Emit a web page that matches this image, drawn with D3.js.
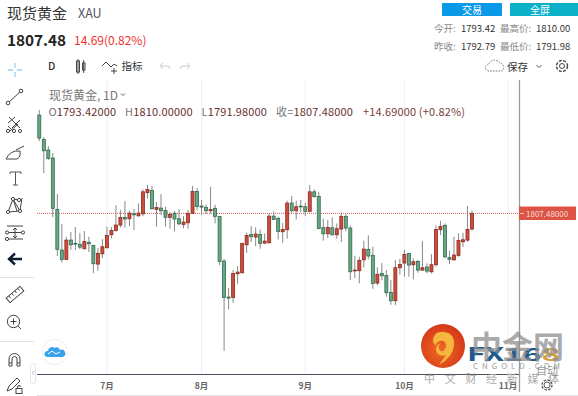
<!DOCTYPE html>
<html>
<head>
<meta charset="utf-8">
<script src="https://cdn.jsdelivr.net/npm/d3@7"></script>
<style>
  html, body { margin: 0; padding: 0; background: #fff; }
  svg { display: block; }
  text { font-family: "Noto Sans CJK SC", "Noto Sans", sans-serif; }
</style>
</head>
<body>
<div id="chart"></div>
<script>
// Velas diarias
const opens = [1895.6,1873.8,1864.3,1857.1,1811.1,1774.6,1766.2,1783.5,1780.6,1779.7,1775.7,1781.5,1778.8,1762.0,1771.2,1776.6,1788.3,1792.2,1797.0,1803.9,1802.6,1807.1,1805.3,1807.1,1826.0,1828.1,1811.0,1812.2,1810.1,1803.9,1807.5,1802.6,1797.6,1799.0,1807.5,1827.2,1814.0,1812.8,1809.8,1812.0,1804.8,1764.7,1732.4,1732.1,1753.3,1754.2,1779.3,1788.6,1786.2,1788.6,1780.8,1781.1,1805.0,1803.0,1791.0,1792.8,1816.7,1809.8,1814.0,1813.4,1809.3,1826.8,1822.7,1794.6,1789.2,1794.6,1788.3,1793.4,1804.8,1794.3,1756.0,1756.0,1765.8,1775.2,1769.8,1745.0,1753.6,1751.8,1736.6,1729.1,1758.7,1762.9,1771.6,1761.4,1764.4,1756.6,1759.3,1755.1,1761.4,1792.8,1796.7,1768.0,1765.8,1769.8,1782.0,1783.5,1793.42];
const highs = [1900.1,1875.9,1867.8,1861.6,1824.8,1797.9,1786.5,1790.7,1795.2,1789.8,1791.6,1786.5,1779.0,1776.3,1784.4,1795.5,1795.2,1814.9,1810.4,1818.5,1809.8,1811.3,1816.4,1829.0,1832.9,1832.0,1817.6,1824.8,1813.4,1808.4,1809.8,1811.3,1805.0,1810.4,1832.0,1830.2,1819.4,1815.2,1831.3,1815.2,1804.8,1766.5,1740.5,1756.6,1760.2,1780.8,1790.1,1796.1,1794.9,1793.1,1789.5,1807.5,1809.3,1804.4,1799.0,1818.8,1823.0,1818.8,1819.4,1817.0,1832.9,1829.0,1826.8,1802.6,1801.5,1803.9,1798.5,1808.4,1806.8,1796.7,1769.2,1768.5,1782.9,1787.7,1777.5,1759.0,1762.9,1756.6,1747.6,1765.6,1766.7,1774.6,1771.6,1767.1,1765.6,1782.6,1762.6,1771.0,1796.7,1800.8,1798.5,1773.9,1786.5,1789.5,1790.1,1814.0,1810.00];
const lows = [1872.3,1843.6,1855.3,1804.1,1769.2,1763.2,1765.6,1774.6,1774.6,1775.4,1775.4,1772.8,1753.9,1756.0,1767.4,1776.1,1785.0,1791.0,1794.9,1794.6,1796.1,1792.5,1804.4,1805.0,1820.6,1811.0,1795.5,1805.9,1795.5,1793.7,1791.3,1796.7,1794.0,1793.7,1806.8,1810.4,1806.2,1806.8,1807.5,1798.5,1761.1,1684.2,1721.4,1727.3,1744.0,1753.6,1772.1,1781.7,1778.1,1775.7,1779.9,1780.6,1801.5,1784.1,1781.1,1784.7,1807.5,1802.1,1808.6,1805.0,1808.6,1821.8,1793.1,1782.9,1785.3,1787.7,1784.7,1781.7,1791.3,1747.6,1749.4,1744.7,1759.0,1766.2,1739.8,1742.9,1747.6,1732.7,1725.5,1725.2,1752.4,1750.6,1750.6,1748.3,1754.2,1756.0,1753.6,1753.6,1759.6,1788.0,1767.4,1762.0,1765.0,1768.5,1777.5,1782.0,1791.98];
const closes = [1875.0,1863.6,1856.8,1812.0,1775.2,1766.2,1783.5,1779.3,1779.9,1777.2,1782.3,1780.2,1762.3,1771.6,1777.5,1787.7,1792.2,1797.0,1803.9,1802.4,1807.7,1806.2,1807.7,1826.8,1829.0,1811.6,1812.8,1809.8,1803.9,1806.6,1802.4,1798.1,1799.7,1807.5,1827.2,1813.7,1813.1,1809.8,1811.0,1804.8,1764.4,1732.1,1731.5,1753.6,1754.8,1780.6,1787.7,1786.5,1788.9,1780.6,1782.6,1805.0,1802.1,1791.3,1793.1,1816.7,1809.8,1813.4,1813.4,1809.3,1826.8,1822.4,1794.0,1789.2,1794.9,1788.3,1793.7,1804.8,1794.3,1755.1,1756.6,1765.3,1775.4,1769.2,1744.7,1752.8,1751.5,1736.3,1729.1,1758.7,1761.7,1770.7,1761.1,1764.1,1756.6,1758.7,1755.7,1761.4,1793.1,1795.8,1768.5,1766.2,1770.1,1783.2,1783.8,1793.1,1807.48];

const monthTicks = [15, 36, 59, 81, 104];
const monthLabels = ["7月", "8月", "9月", "10月", "11月"];
const lastPrice = 1807.48;

const width = 578, height = 396;
const ink = "#444";

const svg = d3.select("#chart").append("svg")
  .attr("width", width).attr("height", height)
  .attr("viewBox", `0 0 ${width} ${height}`);

const x = d3.scaleLinear().domain([0, 96]).range([39.3, 472]);
const y = d3.scaleLinear().domain([1900, 1700]).range([110.2, 333.2]);

const label = (txt, px, py, size, fill, extra = {}) => {
  const t = svg.append("text").attr("x", px).attr("y", py)
    .attr("font-size", size).attr("fill", fill).text(txt);
  Object.entries(extra).forEach(([k, v]) => t.attr(k, v));
  return t;
};

// Cabecera
label("现货黄金", 7, 19, 15, "#333");
label("XAU", 78, 18, 12.5, "#556");
label("1807.48", 7, 46, 15.3, "#222", { "font-weight": 700 });
label("14.69(0.82%)", 74, 45, 12, "#f0302c");

svg.append("rect").attr("x", 442).attr("y", 3).attr("width", 60).attr("height", 13).attr("fill", "#0a9ae8");
svg.append("rect").attr("x", 510).attr("y", 3).attr("width", 68).attr("height", 13).attr("fill", "#0cb0c9");
label("交易", 472, 13.5, 10, "#fff", { "text-anchor": "middle" });
label("全屏", 540, 13.5, 10, "#fff", { "text-anchor": "middle" });

[["今开:", 434, "1793.42", 461, 32], ["昨收:", 434, "1792.79", 461, 50]].forEach(r => {
  label(r[0], r[1], r[4], 9.5, "#888");
  label(r[2], r[3], r[4], 9.5, "#333");
});
[["最高价:", 500, "1810.00", 536, 32], ["最低价:", 500, "1791.98", 536, 50]].forEach(r => {
  label(r[0], r[1], r[4], 9.5, "#888");
  label(r[2], r[3], r[4], 9.5, "#333");
});

// Barra superior
label("D", 48, 70, 10.5, "#333", { "font-weight": 500 });
const line = (d, stroke = ink, w = 1, g = svg) =>
  g.append("path").attr("d", d).attr("fill", "none").attr("stroke", stroke).attr("stroke-width", w);

svg.append("rect").attr("x", 76.5).attr("y", 61).attr("width", 3).attr("height", 11).attr("fill", "#fff").attr("stroke", ink);
svg.append("rect").attr("x", 82.5).attr("y", 63).attr("width", 2.5).attr("height", 7).attr("fill", "#fff").attr("stroke", ink);
line("M78 59V74M83.7 60V73");
line("M102 66l4-4 5 5 3-3 3 2");
line("M111 71h6M114 68v6");
label("指标", 121.5, 70, 10.5, "#333");
line("M160 66h7q3 0 3 3M160 66l3-3M160 66l3 3", "#ccc");
line("M190 66h-7q-3 0-3 3M190 66l-3-3M190 66l-3 3", "#ccc");

svg.append("path").attr("d", "M489 71a3.5 3.5 0 0 1 0-7a6 5.5 0 0 1 11-1a4.5 4.5 0 0 1 2 8Z")
  .attr("fill", "none").attr("stroke", "#777").attr("stroke-dasharray", "1.6 1.2");
label("保存", 507, 70.5, 10.5, "#333");
line("M536.5 65l2.5 2.5 2.5-2.5", "#555");
svg.append("circle").attr("cx", 562).attr("cy", 66).attr("r", 2.5).attr("fill", "none").attr("stroke", ink);
svg.append("circle").attr("cx", 562).attr("cy", 66).attr("r", 5.5).attr("fill", "none").attr("stroke", ink).attr("stroke-dasharray", "3 1.4").attr("stroke-width", 1.4);

// Rejilla y ejes
svg.append("g").selectAll("line").data(monthTicks).enter().append("line")
  .attr("x1", d => x(d)).attr("x2", d => x(d))
  .attr("y1", 80).attr("y2", 374)
  .attr("stroke", "#e9f0f7").attr("stroke-width", 1);

svg.append("line").attr("x1", 519.5).attr("x2", 519.5).attr("y1", 80).attr("y2", 392)
  .attr("stroke", "#9a9aa2").attr("stroke-width", 1.3);
svg.append("line").attr("x1", 37).attr("x2", 519).attr("y1", 374.5).attr("y2", 374.5)
  .attr("stroke", "#50505e").attr("stroke-width", 1);
svg.append("line").attr("x1", 37).attr("x2", 578).attr("y1", 395.5).attr("y2", 395.5)
  .attr("stroke", "#e4e4ec").attr("stroke-width", 1);

svg.append("g").selectAll("text").data(monthTicks).enter().append("text")
  .attr("x", d => x(d)).attr("y", 389)
  .attr("text-anchor", "middle").attr("font-size", 8.5).attr("font-weight", 700)
  .attr("fill", "#666")
  .text((d, i) => monthLabels[i]);

// Leyenda
label("现货黄金, 1D", 49, 100, 12, "#777");
line("M121 93.5l2 2 2-2", "#666");
const legendItems = [["O", "1793.42000", 48.5], ["H", "1810.00000", 125], ["L", "1791.98000", 201.5], ["收=", "1807.48000", 276]];
legendItems.forEach(d => {
  const t = label("", d[2], 116, 11, "#777", { "letter-spacing": "0.15" });
  t.append("tspan").text(d[0]);
  t.append("tspan").attr("fill", "#6b2f2f").text(d[1]);
});
label("+14.69000 (+0.82%)", 363, 116, 11, "#7a3b3b", { "letter-spacing": "0.15" });

// Linea del ultimo precio
svg.append("line").attr("x1", 37).attr("x2", 519).attr("y1", y(lastPrice)).attr("y2", y(lastPrice))
  .attr("stroke", "#d8574c").attr("stroke-width", 1).attr("stroke-dasharray", "1 1");

// Velas
const candles = d3.range(opens.length);
const green = "#6aa785", greenEdge = "#2f6b4d", red = "#cd4c3c", redEdge = "#8c2b20";
const isUp = i => closes[i] >= opens[i];
const bodyW = 3;

svg.append("g").selectAll("line").data(candles).enter().append("line")
  .attr("x1", i => x(i)).attr("x2", i => x(i))
  .attr("y1", i => y(highs[i])).attr("y2", i => y(lows[i]))
  .attr("stroke", "#888").attr("stroke-width", 1);

svg.append("g").selectAll("rect").data(candles).enter().append("rect")
  .attr("x", i => x(i) - bodyW / 2)
  .attr("y", i => y(Math.max(opens[i], closes[i])))
  .attr("width", bodyW)
  .attr("height", i => Math.max(0.8, Math.abs(y(opens[i]) - y(closes[i]))))
  .attr("fill", i => isUp(i) ? red : green)
  .attr("stroke", i => isUp(i) ? redEdge : greenEdge)
  .attr("stroke-width", 0.8);

// Etiqueta de precio
svg.append("rect").attr("x", 519).attr("y", 206.5).attr("width", 57).attr("height", 13.5).attr("fill", "#dd5445");
svg.append("line").attr("x1", 520).attr("x2", 524).attr("y1", 213.5).attr("y2", 213.5).attr("stroke", "#f3c4be");
label("1807.48000", 526, 216.5, 8, "#f7dcd8");

// Barra izquierda
line("M0 277.5H34M0 341.5H34", "#e2e2e6");
line("M15 63v5M15 72v5M8 70h5M17 70h5", "#9bd0f5", 1.3);
const dot = (cx, cy, r = 1.8) => svg.append("circle").attr("cx", cx).attr("cy", cy).attr("r", r).attr("fill", "#fff").attr("stroke", ink);
line("M8 103L21 91");
dot(8, 103); dot(21, 91);
line("M9 117l11 11M8 123l7-6M12 128l8-8M10 131l8-7M8 126l5 5");
dot(8, 131, 1.6); dot(14, 131, 1.6); dot(20, 131, 1.6);
line("M6 159q4-9 14-8q1 6-3 8ZM16 150l8-4");
line("M10 172h11M15.5 172v13M13 185h5M10 172v2M21 172v2", "#555");
line("M8 212L13 199L20 211L22 198M13 199L19 200M8 212L20 211M13 199L17 211");
dot(8, 212, 1.6); dot(13, 199, 1.6); dot(20, 211, 1.6); dot(19, 200, 1.6);
line("M7 226h16M7 232.5h16M7 239h16M15 228v10M13 236l2 2 2-2M13 230l2-2 2 2");
dot(7, 232.5, 1.6); dot(23, 232.5, 1.6); dot(7, 239, 1.6);
svg.append("path").attr("d", "M9 259h13M15 253.5l-6 5.5 6 5.5").attr("fill", "none").attr("stroke", "#0e1c33").attr("stroke-width", 2.4);
svg.append("rect").attr("x", 6).attr("y", 291.5).attr("width", 18).attr("height", 6).attr("transform", "rotate(-40 15 294.5)").attr("fill", "#fff").attr("stroke", ink);
line("M9 296l1.5 2M12 293.5l1.5 2M15 291l1.5 2M18 288.5l1.5 2");
svg.append("circle").attr("cx", 13.5).attr("cy", 321.5).attr("r", 6.2).attr("fill", "#fff").attr("stroke", ink);
line("M18 326l3 3M13.5 318.5v6M10.5 321.5h6");
line("M9 366v-7a5.5 5.5 0 0 1 11 0v7h-3v-7a2.5 2.5 0 0 0-5 0v7ZM9 363h3M17 363h3");
line("M7 391l2-5 8-8 3 3-8 8Z");
svg.append("rect").attr("x", 16).attr("y", 388.5).attr("width", 6).attr("height", 5).attr("fill", "#fff").attr("stroke", ink);
line("M17.5 388.5v-1.5a1.5 1.5 0 0 1 3 0");

// Boton de la nube y pestana
svg.append("circle").attr("cx", 55).attr("cy", 352).attr("r", 12.5).attr("fill", "#fff").attr("stroke", "#efefef");
svg.append("path").attr("d", "M47 357a3 3 0 0 1 1-6a4 4 0 0 1 6.5-3a3.5 3.5 0 0 1 5.5 2a3.5 3.5 0 0 1 3 7Z").attr("fill", "#3aa1ec");
line("M48 354l4-3 4 3 4-2", "#fff", 1);
svg.append("rect").attr("x", 30.5).attr("y", 363.5).attr("width", 5).attr("height", 20).attr("rx", 2).attr("fill", "#fff").attr("stroke", "#e4e4e8");
line("M34 371l-1.5 2 1.5 2", "#9cc4e4");

// Marca de agua
const grad = svg.append("defs").append("radialGradient").attr("id", "logo").attr("cx", "45%").attr("cy", "60%").attr("r", "60%");
grad.append("stop").attr("offset", "0%").attr("stop-color", "#ee6a22");
grad.append("stop").attr("offset", "100%").attr("stop-color", "#d5371a");
svg.append("circle").attr("cx", 443).attr("cy", 346).attr("r", 22).attr("fill", "url(#logo)");
svg.append("path").attr("d", "M433 342q0-12 12-10q10 2 9 13q-1 12-15 20q4-6 7-10q-6 2-9-2q-2-4 0-7q1-2 4-3q-3 2-2 6q1 3 4 2q3-2 3-6q-1-5-6-4q-4 1-4 5Z")
  .attr("fill", "#f4b63e");
const fx = label("", 467, 361, 18, "#1b5a8a", { "font-weight": 700, textLength: 93, lengthAdjust: "spacingAndGlyphs" });
fx.append("tspan").text("FX16");
fx.append("tspan").attr("fill", "#d8a03a").text("8");
label("中金网", 471, 358, 31, "#8e8e8e", { "font-weight": 700, opacity: 0.75 });
label("CNGOLD.COM", 473, 369, 8, "#a0a0a0", { textLength: 87 });
label("中文财经新媒体", 424, 383, 11, "#aaa", { "letter-spacing": "9.7" });
label("自动", 536, 375, 11, "#555", { opacity: 0.6 });
svg.append("circle").attr("cx", 547).attr("cy", 385).attr("r", 3).attr("fill", "none").attr("stroke", "#555");
svg.append("circle").attr("cx", 547).attr("cy", 385).attr("r", 5).attr("fill", "none").attr("stroke", "#555").attr("stroke-dasharray", "2.5 1.4").attr("stroke-width", 1.3);
</script>
</body>
</html>
